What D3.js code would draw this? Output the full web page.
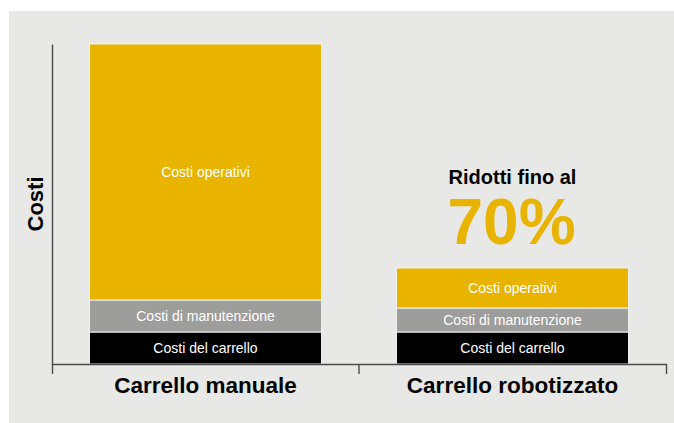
<!DOCTYPE html>
<html>
<head>
<meta charset="utf-8">
<script src="https://cdn.jsdelivr.net/npm/d3@7"></script>
<style>
  body { margin: 0; background: #fff; }
  text { font-family: "Liberation Sans", Arial, sans-serif; }
</style>
</head>
<body>
<script>
// data
var categories = ['Carrello manuale', 'Carrello robotizzato'];
var segments = ['Costi del carrello', 'Costi di manutenzione', 'Costi operativi'];
var carrello = [10, 10];      // Costi del carrello
var manutenzione = [10, 7.5]; // Costi di manutenzione
var operativi = [80, 12.5];   // Costi operativi
var colors = ['#000000', '#9d9d9b', '#e8b400'];

var width = 674,
	height = 423,
	margin = {top: 44, right: 8, bottom: 59, left: 52};

var svg = d3.select('body').append('svg')
	.attr('width', width)
	.attr('height', height);

// gray panel
svg.append('rect')
	.attr('x', 9).attr('y', 11)
	.attr('width', width - 9).attr('height', height - 11)
	.attr('fill', '#e8e8e6');

var innerW = width - margin.left - margin.right,
	innerH = height - margin.top - margin.bottom;

var g = svg.append('g')
	.attr('transform', 'translate(' + margin.left + ',' + margin.top + ')');

var xScale = d3.scaleBand().domain(categories).range([0, innerW])
	.paddingInner(0.244).paddingOuter(0.122);
var yScale = d3.scaleLinear().domain([0, 100]).range([innerH, 0]);

// build stacked table
var table = categories.map(function(c, i) {
	return {cat: c, 'Costi del carrello': carrello[i],
		'Costi di manutenzione': manutenzione[i], 'Costi operativi': operativi[i]};
});
var stacked = d3.stack().keys(segments)(table);

var layers = g.selectAll('.layer')
	.data(stacked)
	.enter().append('g')
	.attr('class', 'layer')
	.attr('fill', function(d, i) { return colors[i]; });

layers.selectAll('rect')
	.data(function(d) { return d; })
	.enter().append('rect')
	.attr('x', function(d) { return xScale(d.data.cat); })
	.attr('y', function(d) { return yScale(d[1]); })
	.attr('width', xScale.bandwidth())
	.attr('height', function(d) { return yScale(d[0]) - yScale(d[1]); })
	.attr('stroke', '#f2f2f0')
	.attr('stroke-width', 1);

// segment labels
layers.each(function(layer) {
	d3.select(this).selectAll('text')
		.data(layer)
		.enter().append('text')
		.attr('x', function(d) { return xScale(d.data.cat) + xScale.bandwidth() / 2; })
		.attr('y', function(d) { return (yScale(d[0]) + yScale(d[1])) / 2; })
		.attr('dy', '0.35em')
		.attr('text-anchor', 'middle')
		.attr('fill', '#ffffff')
		.style('font-size', '14px')
		.style('font-weight', 300)
		.text(layer.key);
});

// x axis with outer ticks at band edges
var xAxis = g.append('g')
	.attr('transform', 'translate(0,' + innerH + ')')
	.call(d3.axisBottom(xScale).tickValues([]).tickSizeOuter(10));
xAxis.select('.domain').attr('stroke', '#4a4a4a').attr('stroke-width', 1.4);

// middle tick between the two categories
var mid = (xScale(categories[0]) + xScale.bandwidth() + xScale(categories[1])) / 2;
g.append('line')
	.attr('x1', mid).attr('x2', mid)
	.attr('y1', innerH).attr('y2', innerH + 10)
	.attr('stroke', '#4a4a4a').attr('stroke-width', 1.4);

// y axis
var yAxis = g.append('g')
	.call(d3.axisLeft(yScale).tickValues([]).tickSizeOuter(0));
yAxis.select('.domain').attr('stroke', '#4a4a4a').attr('stroke-width', 1.4);

// category labels
g.selectAll('.cat-label')
	.data(categories)
	.enter().append('text')
	.attr('class', 'cat-label')
	.attr('x', function(d) { return xScale(d) + xScale.bandwidth() / 2; })
	.attr('y', innerH + 29)
	.attr('text-anchor', 'middle')
	.style('font-size', '22.5px')
	.style('font-weight', 'bold')
	.attr('fill', '#000')
	.text(function(d) { return d; });

// y label
g.append('text')
	.attr('transform', 'translate(-9,' + (innerH / 2) + ') rotate(-90)')
	.attr('text-anchor', 'middle')
	.style('font-size', '22px')
	.style('font-weight', 'bold')
	.attr('fill', '#000')
	.text('Costi');

// reduction annotation above the second bar
var cx = xScale(categories[1]) + xScale.bandwidth() / 2;
var top2 = yScale(carrello[1] + manutenzione[1] + operativi[1]);
g.append('text')
	.attr('x', cx).attr('y', top2 - 84)
	.attr('text-anchor', 'middle')
	.style('font-size', '20px')
	.style('font-weight', 'bold')
	.attr('fill', '#000')
	.text('Ridotti fino al');
g.append('text')
	.attr('x', cx - 1).attr('y', top2 - 24)
	.attr('text-anchor', 'middle')
	.style('font-size', '64px')
	.style('font-weight', 'bold')
	.attr('fill', '#e8b400')
	.text('70%');
</script>
</body>
</html>
